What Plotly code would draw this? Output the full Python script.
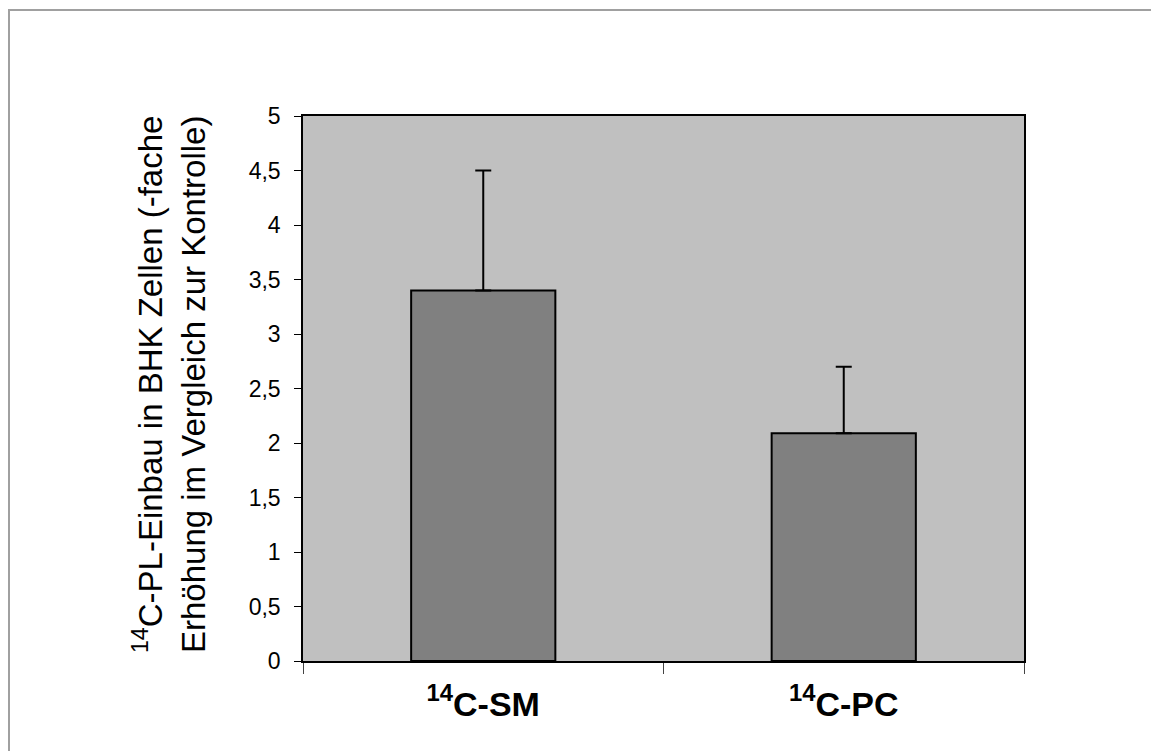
import plotly.graph_objects as go

categories = ["<sup>14</sup>C-SM", "<sup>14</sup>C-PC"]
values = [3.4, 2.09]
errors_plus = [1.1, 0.61]
errors_minus = [0, 0]
y_tickvals = [0, 0.5, 1, 1.5, 2, 2.5, 3, 3.5, 4, 4.5, 5]
y_ticktext = ["0", "0,5", "1", "1,5", "2", "2,5", "3", "3,5", "4", "4,5", "5"]
y_title = "<sup>14</sup>C-PL-Einbau in BHK Zellen (-fache<br>Erhöhung im Vergleich zur Kontrolle)"

OFF = 8  # page body margin
W, H = 1159 - OFF, 751 - OFF
L, R, T, B = 303 - OFF, 1024 - OFF, 116 - OFF, 661 - OFF

fig = go.Figure()
fig.add_trace(go.Bar(
    x=categories, y=values, width=0.40,
    marker=dict(color="#808080", line=dict(color="black", width=2)),
    error_y=dict(type="data", symmetric=False, array=errors_plus, arrayminus=errors_minus,
                 color="black", thickness=2, width=8),
    showlegend=False,
))

fig.update_layout(
    width=W, height=H,
    margin=dict(l=L, r=W - R, t=T, b=H - B, pad=0),
    paper_bgcolor="white", plot_bgcolor="#C0C0C0",
    font=dict(family="Arial, Liberation Sans, sans-serif", color="black"),
)
fig.update_xaxes(
    showline=True, linecolor="black", linewidth=1.5, mirror=True,
    ticks="outside", tickson="boundaries", ticklen=11, tickcolor="#444", tickwidth=1,
    tickfont=dict(size=34, family="Arial, Liberation Sans, sans-serif", color="black", weight="bold"),
    ticklabelstandoff=12,
    showgrid=False, zeroline=False,
)
fig.update_yaxes(
    range=[0, 5], tickvals=y_tickvals, ticktext=y_ticktext,
    showline=True, linecolor="black", linewidth=1.5, mirror=True,
    ticks="outside", ticklen=7, tickcolor="black", tickwidth=1,
    tickfont=dict(size=23), ticklabelstandoff=9,
    showgrid=False, zeroline=False,
)
fig.add_annotation(
    text=y_title, textangle=-90, xref="paper", yref="paper",
    x=(169 - 303) / (1024 - 303), y=(661 - 385) / (661 - 116), xanchor="center", yanchor="middle",
    showarrow=False, font=dict(size=33), align="center",
)
# outer chart frame (top and left edges visible)
fig.add_shape(
    type="rect", xref="paper", yref="paper",
    x0=(9 - 303) / (1024 - 303), x1=(1250 - 303) / (1024 - 303),
    y0=(661 - 850) / (661 - 116), y1=(661 - 10) / (661 - 116),
    line=dict(color="#A0A0A0", width=2), layer="below",
)
fig.write_html("out.html")
